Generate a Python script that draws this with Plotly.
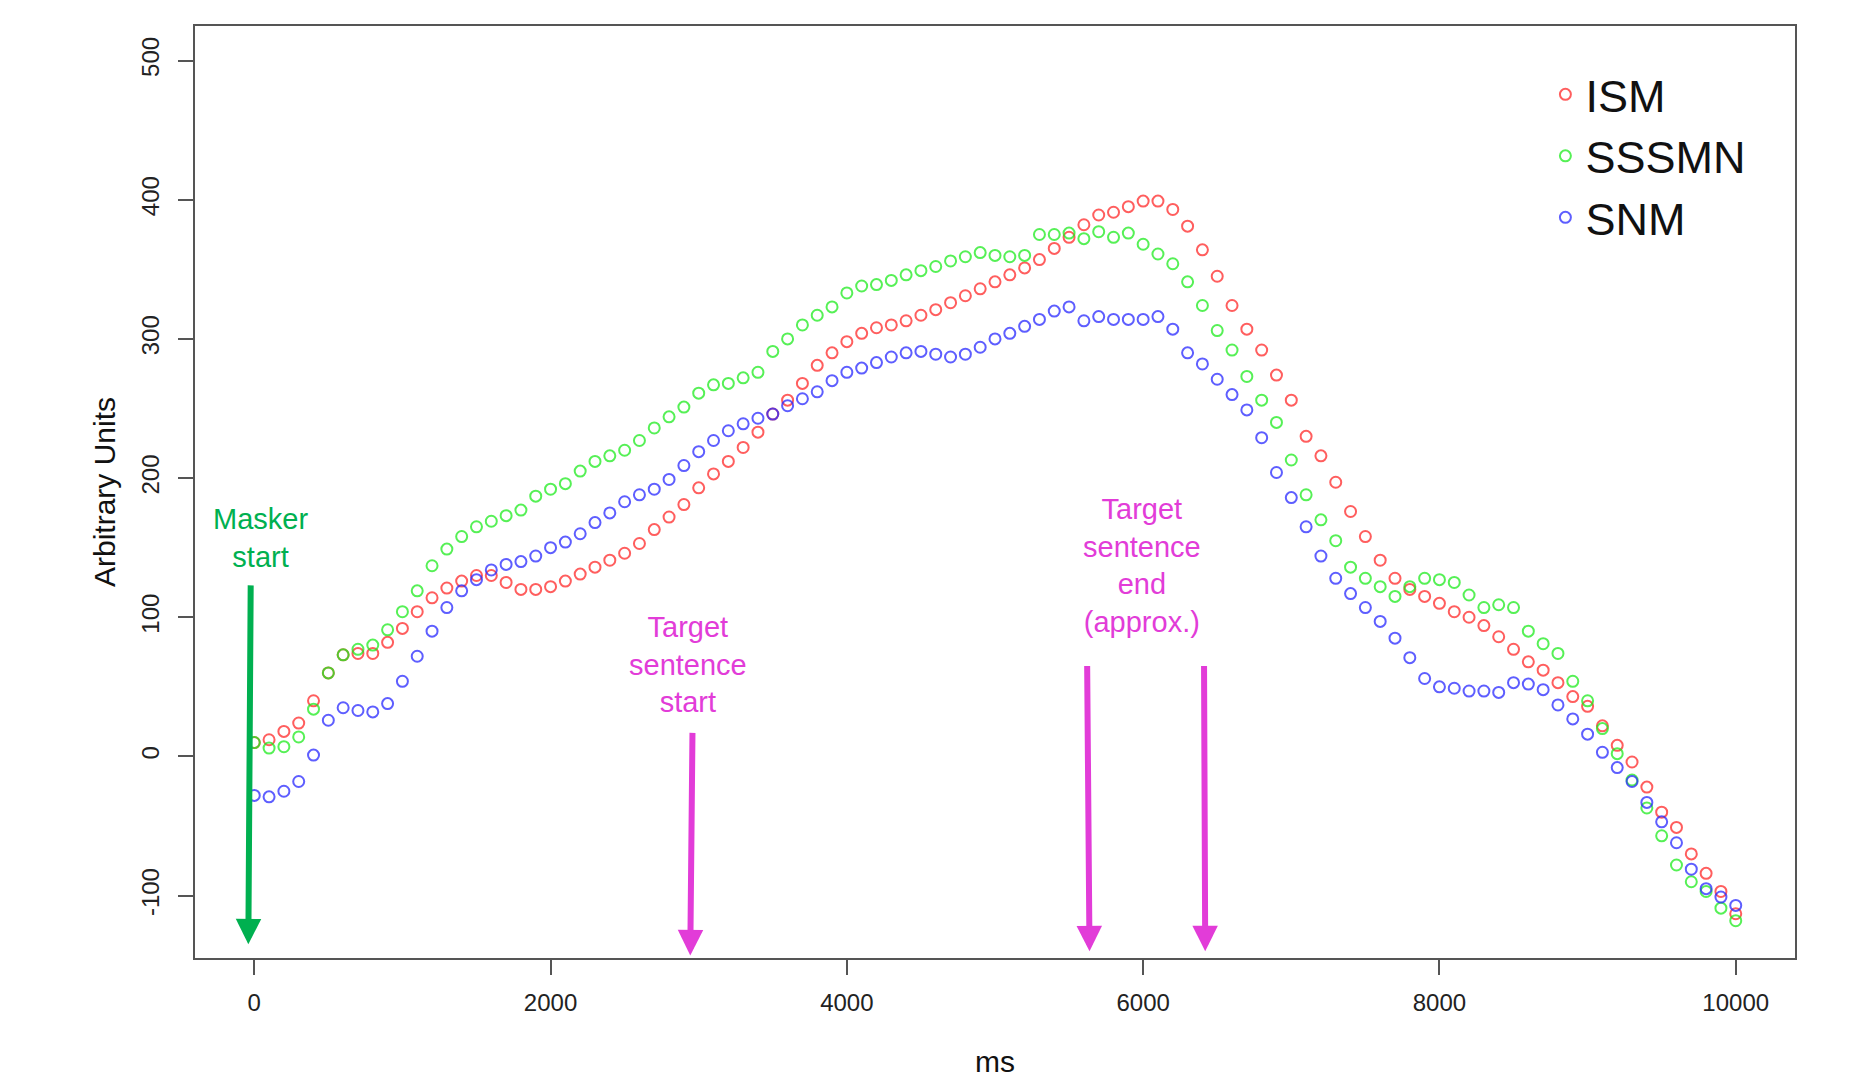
import plotly.graph_objects as go

time_ms = list(range(0, 10001, 100))

ism = [10, 12, 18, 24, 40, 60, 73, 74, 74, 82, 92, 104, 114, 121, 126, 130, 130, 125, 120, 120,
       122, 126, 131, 136, 141, 146, 153, 163, 172, 181, 193, 203, 212, 222, 233, 246, 256, 268, 281, 290,
       298, 304, 308, 310, 313, 317, 321, 326, 331, 336, 341, 346, 351, 357, 365, 373, 382, 389, 391, 395,
       399, 399, 393, 381, 364, 345, 324, 307, 292, 274, 256, 230, 216, 197, 176, 158, 141, 128, 120, 115,
       110, 104, 100, 94, 86, 77, 68, 62, 53, 43, 36, 22, 8, -4, -22, -40, -51, -70, -84, -97, -113]

sssmn = [10, 6, 7, 14, 34, 60, 73, 77, 80, 91, 104, 119, 137, 149, 158, 165, 169, 173, 177, 187,
         192, 196, 205, 212, 216, 220, 227, 236, 244, 251, 261, 267, 268, 272, 276, 291, 300, 310, 317, 323,
         333, 338, 339, 342, 346, 349, 352, 356, 359, 362, 360, 359, 360, 375, 375, 376, 372, 377, 373, 376,
         368, 361, 354, 341, 324, 306, 292, 273, 256, 240, 213, 188, 170, 155, 136, 128, 122, 115, 122, 128,
         127, 125, 116, 107, 109, 107, 90, 81, 74, 54, 40, 20, 2, -17, -37, -57, -78, -90, -97, -109, -118]

snm = [-28, -29, -25, -18, 1, 26, 35, 33, 32, 38, 54, 72, 90, 107, 119, 127, 134, 138, 140, 144,
       150, 154, 160, 168, 175, 183, 188, 192, 199, 209, 219, 227, 234, 239, 243, 246, 252, 257, 262, 270,
       276, 279, 283, 287, 290, 291, 289, 287, 289, 294, 300, 304, 309, 314, 320, 323, 313, 316, 314, 314,
       314, 316, 307, 290, 282, 271, 260, 249, 229, 204, 186, 165, 144, 128, 117, 107, 97, 85, 71, 56,
       50, 49, 47, 47, 46, 53, 52, 48, 37, 27, 16, 3, -8, -18, -33, -47, -62, -81, -95, -101, -107]

series_names = ["ISM", "SSSMN", "SNM"]
series_colors = ["rgba(255,40,40,0.75)", "rgba(30,235,30,0.75)", "rgba(40,40,255,0.75)"]
x_ticks = [0, 2000, 4000, 6000, 8000, 10000]
x_tick_labels = ["0", "2000", "4000", "6000", "8000", "10000"]
y_ticks = [-100, 0, 100, 200, 300, 400, 500]
y_tick_labels = ["-100", "0", "100", "200", "300", "400", "500"]

FONT = "Liberation Sans, Arial, Helvetica, sans-serif"
GREEN = "#00B050"
MAGENTA = "#E23CD8"

fig = go.Figure()
for name, vals, col in zip(series_names, [ism, sssmn, snm], series_colors):
    fig.add_trace(go.Scatter(
        x=time_ms, y=vals, mode="markers", name=name,
        marker=dict(symbol="circle-open", size=11, color=col, line=dict(width=2, color=col)),
    ))

axis_common = dict(
    showline=True, mirror=True, linecolor="#555555", linewidth=1.5,
    ticks="outside", ticklen=15, tickwidth=1.5, tickcolor="#555555",
    showgrid=False, zeroline=False, automargin=False,
    tickfont=dict(family=FONT, size=24, color="#222222"),
)

fig.update_layout(
    width=1844, height=1070,
    margin=dict(l=187, r=57, t=18, b=120),
    paper_bgcolor="white", plot_bgcolor="white",
    font=dict(family=FONT),
    xaxis=dict(range=[-400, 10400], tickvals=x_ticks, ticktext=x_tick_labels, ticklabelstandoff=7,
               title=dict(text="ms", font=dict(family=FONT, size=30, color="#111111"), standoff=37),
               **axis_common),
    yaxis=dict(range=[-144.8, 524.8], tickvals=y_ticks, ticktext=y_tick_labels, tickangle=-90,
               ticklabelstandoff=10,
               title=dict(text="Arbitrary Units", font=dict(family=FONT, size=30, color="#111111"), standoff=12),
               **axis_common),
    legend=dict(x=0.844, y=0.965, xanchor="left", yanchor="top",
                font=dict(family=FONT, size=45, color="#111111"),
                bgcolor="rgba(0,0,0,0)", tracegroupgap=0),
    showlegend=True,
)

arrows = [
    (-40, -135, -24, 124, GREEN),
    (2943, -143, 2958, 18, MAGENTA),
    (5638, -140, 5622, 66, MAGENTA),
    (6419, -140, 6411, 66, MAGENTA),
]
for x, y, ax, ay, col in arrows:
    fig.add_annotation(x=x, y=y, ax=ax, ay=ay, xref="x", yref="y", axref="x", ayref="y",
                       showarrow=True, arrowhead=2, arrowsize=0.85, arrowwidth=6, arrowcolor=col, text="")

labels = [
    (40, 157, "Masker<br>start", GREEN),
    (2927, 66, "Target<br>sentence<br>start", MAGENTA),
    (5989, 137, "Target<br>sentence<br>end<br>(approx.)", MAGENTA),
]
for x, y, txt, col in labels:
    fig.add_annotation(x=x, y=y, xref="x", yref="y", text=txt, showarrow=False,
                       font=dict(family=FONT, size=29, color=col), align="center")

fig.write_html("out.html")
